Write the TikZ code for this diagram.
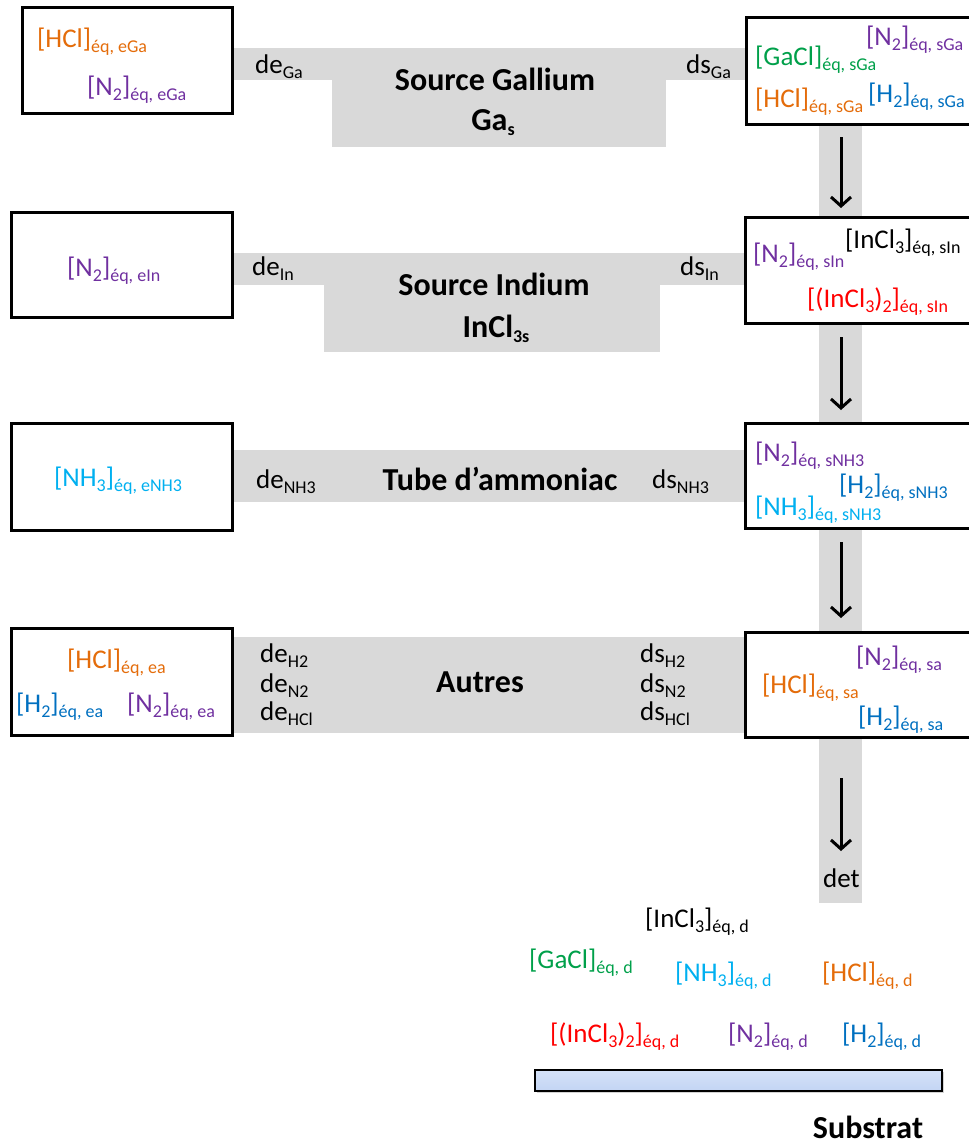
\documentclass[tikz,border=0pt]{standalone}
\usepackage{fontspec}
\setmainfont{Carlito}
\usetikzlibrary{arrows.meta,shadows}
\definecolor{cor}{HTML}{E46C0A}
\definecolor{cpu}{HTML}{7030A0}
\definecolor{cgr}{HTML}{00A04A}
\definecolor{cbl}{HTML}{0070C0}
\definecolor{ccy}{HTML}{00B0F0}
\definecolor{cre}{HTML}{FF0000}
\definecolor{pipegray}{HTML}{D9D9D9}
\definecolor{subfill}{HTML}{C3D5F4}
\newcommand\lo[1]{\raisebox{-5pt}{\fontsize{18}{18}\selectfont #1}}
\begin{document}
\begin{tikzpicture}[x=1pt,y=-1pt,
  sp/.style={anchor=base west,inner sep=0pt,font=\fontsize{27}{27}\selectfont},
  lbl/.style={anchor=base west,inner sep=0pt,font=\fontsize{27}{27}\selectfont},
  ttl/.style={anchor=base,inner sep=0pt,font=\bfseries\fontsize{32}{32}\selectfont},
  boxe/.style={draw=black,line width=3pt,fill=white,inner sep=0pt,
    drop shadow={opacity=0.35,shadow xshift=2pt,shadow yshift=-2pt}},
  pipe/.style={fill=pipegray,draw=none},
  flow/.style={line width=3pt,-{Straight Barb[length=9pt,width=20pt,line width=3pt]}}
]
\useasboundingbox (0,0) rectangle (969,1144);
\clip (0,0) rectangle (969,1144);

% pipes
\fill[pipegray] (819,120) rectangle (862,903);
\fill[pipegray] (232,48) rectangle (746,80);
\node[pipe,minimum width=334pt,minimum height=99pt] (src1) at (499,97.5) {};
\fill[pipegray] (232,253) rectangle (746,285);
\node[pipe,minimum width=336pt,minimum height=99pt] (src2) at (492,302.5) {};
\fill[pipegray] (232,450) rectangle (746,502);
\fill[pipegray] (232,637) rectangle (746,733);

% boxes
\node[boxe,minimum width=210pt,minimum height=106pt] (b1l) at (127,60) {};
\node[boxe,minimum width=229pt,minimum height=107pt] (b1r) at (860.5,70.5) {};
\node[boxe,minimum width=221pt,minimum height=105pt] (b2l) at (121.5,264.5) {};
\node[boxe,minimum width=230pt,minimum height=106pt] (b2r) at (860,270) {};
\node[boxe,minimum width=221pt,minimum height=107pt] (b3l) at (121.5,476.5) {};
\node[boxe,minimum width=230pt,minimum height=105pt] (b3r) at (860,475.5) {};
\node[boxe,minimum width=221pt,minimum height=107pt] (b4l) at (121.5,681.5) {};
\node[boxe,minimum width=230pt,minimum height=105pt] (b4r) at (860,684.5) {};

% row 1
\node[sp,text=cor] (e1a) at (37,47) {[HCl]\lo{éq, eGa}};
\node[sp,text=cpu] (e1b) at (87,95) {[N\lo{2}]\lo{éq, eGa}};
\node[lbl] (de1) at (255,73) {de\lo{Ga}};
\node[ttl] (ti1) at (495,90) {Source Gallium};
\node[ttl] (ti1b) at (493,130) {Ga\lo{s}};
\node[lbl] (ds1) at (686,73) {ds\lo{Ga}};
\node[sp,text=cpu] (s1a) at (866,45) {[N\lo{2}]\lo{éq, sGa}};
\node[sp,text=cgr] (s1b) at (755,65) {[GaCl]\lo{éq, sGa}};
\node[sp,text=cor] (s1c) at (755,107) {[HCl]\lo{éq, sGa}};
\node[sp,text=cbl] (s1d) at (868,102) {[H\lo{2}]\lo{éq, sGa}};

% row 2
\node[sp,text=cpu] (e2a) at (67,276) {[N\lo{2}]\lo{éq, eIn}};
\node[lbl] (de2) at (252,275) {de\lo{In}};
\node[ttl] (ti2) at (494,295) {Source Indium};
\node[ttl] (ti2b) at (496,337) {InCl\lo{3s}};
\node[lbl] (ds2) at (680,275) {ds\lo{In}};
\node[sp,text=cpu] (s2a) at (753,262) {[N\lo{2}]\lo{éq, sIn}};
\node[sp,text=black] (s2b) at (845,248) {[InCl\lo{3}]\lo{éq, sIn}};
\node[sp,text=cre] (s2c) at (807,307) {[(InCl\lo{3})\lo{2}]\lo{éq, sIn}};

% row 3
\node[sp,text=ccy] (e3a) at (54,486) {[NH\lo{3}]\lo{éq, eNH3}};
\node[lbl] (de3) at (256,488) {de\lo{NH3}};
\node[ttl] (ti3) at (500,490) {Tube d’ammoniac};
\node[lbl] (ds3) at (652,488) {ds\lo{NH3}};
\node[sp,text=cpu] (s3a) at (755,461) {[N\lo{2}]\lo{éq, sNH3}};
\node[sp,text=cbl] (s3b) at (839,493) {[H\lo{2}]\lo{éq, sNH3}};
\node[sp,text=ccy] (s3c) at (755,515) {[NH\lo{3}]\lo{éq, sNH3}};

% row 4
\node[sp,text=cor] (e4a) at (67,668) {[HCl]\lo{éq, ea}};
\node[sp,text=cbl] (e4b) at (16,712) {[H\lo{2}]\lo{éq, ea}};
\node[sp,text=cpu] (e4c) at (127,712) {[N\lo{2}]\lo{éq, ea}};
\node[lbl] (de4a) at (260,662) {de\lo{H2}};
\node[lbl] (de4b) at (260,692) {de\lo{N2}};
\node[lbl] (de4c) at (260,720) {de\lo{HCl}};
\node[ttl] (ti4) at (480,692) {Autres};
\node[lbl] (ds4a) at (640,662) {ds\lo{H2}};
\node[lbl] (ds4b) at (640,692) {ds\lo{N2}};
\node[lbl] (ds4c) at (640,720) {ds\lo{HCl}};
\node[sp,text=cpu] (s4a) at (856,665) {[N\lo{2}]\lo{éq, sa}};
\node[sp,text=cor] (s4b) at (762,693) {[HCl]\lo{éq, sa}};
\node[sp,text=cbl] (s4c) at (858,725) {[H\lo{2}]\lo{éq, sa}};

% arrows
\coordinate (a1s) at (841,137); \coordinate (a1e) at (841,208);
\coordinate (a2s) at (841,337); \coordinate (a2e) at (841,410);
\coordinate (a3s) at (841,542); \coordinate (a3e) at (841,618);
\coordinate (a4s) at (841,778); \coordinate (a4e) at (841,851);
\draw[flow] (a1s) -- (a1e);
\draw[flow] (a2s) -- (a2e);
\draw[flow] (a3s) -- (a3e);
\draw[flow] (a4s) -- (a4e);
\node[lbl] (det) at (823,887) {det};

% deposit zone
\node[sp,text=black] (d1) at (645,927) {[InCl\lo{3}]\lo{éq, d}};
\node[sp,text=cgr] (d2) at (529,968) {[GaCl]\lo{éq, d}};
\node[sp,text=ccy] (d3) at (675,981) {[NH\lo{3}]\lo{éq, d}};
\node[sp,text=cor] (d4) at (822,981) {[HCl]\lo{éq, d}};
\node[sp,text=cre] (d5) at (550,1042) {[(InCl\lo{3})\lo{2}]\lo{éq, d}};
\node[sp,text=cpu] (d6) at (728,1042) {[N\lo{2}]\lo{éq, d}};
\node[sp,text=cbl] (d7) at (842,1042) {[H\lo{2}]\lo{éq, d}};
\node[draw=black,line width=2pt,top color=subfill!70!white,bottom color=subfill,minimum width=407pt,minimum height=21pt,inner sep=0pt,
  drop shadow={opacity=0.35,shadow xshift=2pt,shadow yshift=-2pt}] (sub) at (738.5,1080.5) {};
\node[ttl] (subl) at (868,1138) {Substrat};
\end{tikzpicture}
\end{document}
